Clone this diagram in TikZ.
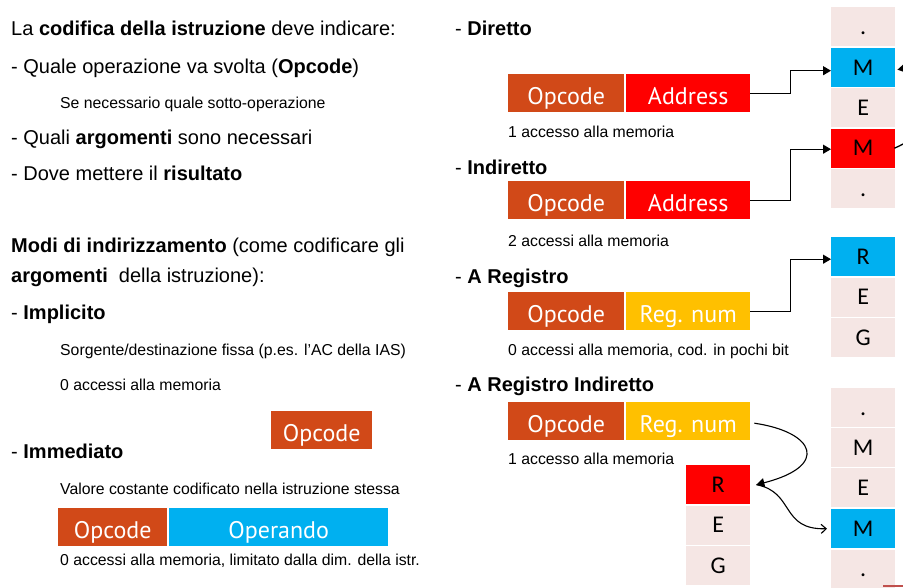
\documentclass[tikz,border=0pt]{standalone}
\usepackage{fontspec}
\setmainfont{Liberation Sans}
\newfontfamily\boxfont{PT Sans}
\newfontfamily\cellfont{Carlito}
\usetikzlibrary{arrows.meta,calc}

\definecolor{opc}{RGB}{209,73,24}
\definecolor{addr}{RGB}{255,0,0}
\definecolor{opnd}{RGB}{0,176,240}
\definecolor{regn}{RGB}{255,192,0}
\definecolor{cellbg}{RGB}{245,230,228}
\definecolor{slide}{RGB}{192,80,77}

\tikzset{
  big/.style={anchor=base west, inner sep=0pt, font=\fontsize{20}{23}\selectfont},
  small/.style={anchor=base west, inner sep=0pt, font=\fontsize{15.8}{18}\selectfont},
  field/.style={anchor=north west, inner sep=0pt, text=white,
    text height=22pt, text depth=0pt,
    font=\boxfont\fontsize{24}{27}\selectfont},
  cell/.style={anchor=north west, inner sep=0pt, fill=cellbg,
    text height=15pt, text depth=0pt,
    minimum width=64pt, minimum height=39pt, font=\cellfont\fontsize{24}{27}\selectfont},
  link/.style={line width=1.3pt, -{Triangle[length=8pt,width=9pt]}},
  barb/.style={line width=1.1pt, -{Straight Barb[length=5pt,width=9pt]}}
}

\begin{document}
\begin{tikzpicture}[x=1pt,y=-1pt]
\useasboundingbox (0,0) rectangle (903,587);
\fill[white] (0,0) rectangle (903,587);

% ---------- left column ----------
\node[big] (t1) at (11,35) {La \textbf{codifica della istruzione} deve indicare:};
\node[big] (t2) at (11,73) {- Quale operazione va svolta (\textbf{Opcode})};
\node[small] (t3) at (60,108) {Se necessario quale sotto-operazione};
\node[big] (t4) at (11,144) {- Quali \textbf{argomenti} sono necessari};
\node[big] (t5) at (11,180) {- Dove mettere il \textbf{risultato}};
\node[big] (t6) at (11,252) {\textbf{Modi di indirizzamento} (come codificare gli};
\node[big] (t7) at (11,282) {\textbf{argomenti}\ \ della istruzione):};
\node[big] (t8) at (11,319) {- \textbf{Implicito}};
\node[small] (t9) at (60,355) {Sorgente/destinazione fissa (p.es. l’AC della IAS)};
\node[small] (t10) at (60,390) {0 accessi alla memoria};
\node[field, fill=opc, minimum width=101pt, minimum height=38pt] (imp) at (271,411) {Opcode};
\node[big] (t11) at (11,458) {- \textbf{Immediato}};
\node[small] (t12) at (60,494) {Valore costante codificato nella istruzione stessa};
\node[field, fill=opc, minimum width=109pt, minimum height=38pt] (iop) at (58,508) {Opcode};
\node[field, fill=opnd, minimum width=219pt, minimum height=38pt] (iopd) at (169,508) {Operando};
\node[small] (t13) at (60,565) {0 accessi alla memoria, limitato dalla dim. della istr.};

% ---------- right column ----------
\node[big] (d0) at (455,35) {- \textbf{Diretto}};
\node[field, fill=opc, minimum width=116pt, minimum height=38pt] (dop) at (508,74) {Opcode};
\node[field, fill=addr, minimum width=124pt, minimum height=38pt] (dad) at (626,74) {Address};
\node[small] (d1) at (508,137) {1 accesso alla memoria};

\node[big] (n0) at (455,174) {- \textbf{Indiretto}};
\node[field, fill=opc, minimum width=116pt, minimum height=38pt] (nop) at (508,181) {Opcode};
\node[field, fill=addr, minimum width=124pt, minimum height=38pt] (nad) at (626,181) {Address};
\node[small] (n1) at (508,246) {2 accessi alla memoria};

\node[big] (r0) at (455,283) {- \textbf{A Registro}};
\node[field, fill=opc, minimum width=116pt, minimum height=38pt] (rop) at (508,292) {Opcode};
\node[field, fill=regn, minimum width=124pt, minimum height=38pt] (rnum) at (626,292) {Reg. num};
\node[small] (r1) at (508,355) {0 accessi alla memoria, cod. in pochi bit};

\node[big] (ri0) at (455,391) {- \textbf{A Registro Indiretto}};
\node[field, fill=opc, minimum width=116pt, minimum height=38pt] (riop) at (508,402) {Opcode};
\node[field, fill=regn, minimum width=124pt, minimum height=38pt] (rinum) at (626,402) {Reg. num};
\node[small] (ri1) at (508,464) {1 accesso alla memoria};

% ---------- memory and register columns ----------
\node[cell] (ma1) at (831,7) {.};
\node[cell, fill=opnd] (ma2) at (831,48) {M};
\node[cell] (ma3) at (831,88) {E};
\node[cell, fill=addr] (ma4) at (831,128.5) {M};
\node[cell] (ma5) at (831,169) {.};

\node[cell, fill=opnd] (ra1) at (831,237) {R};
\node[cell] (ra2) at (831,277.5) {E};
\node[cell] (ra3) at (831,318) {G};

\node[cell] (mb1) at (831,388) {.};
\node[cell] (mb2) at (831,428) {M};
\node[cell] (mb3) at (831,468) {E};
\node[cell, fill=opnd] (mb4) at (831,509) {M};
\node[cell] (mb5) at (831,549.5) {.};

\node[cell, fill=addr] (rb1) at (686,465) {R};
\node[cell] (rb2) at (686,505.5) {E};
\node[cell] (rb3) at (686,546) {G};

\fill[slide] (883,584.5) rectangle (903,587);

% ---------- connectors ----------
\draw[link] (dad.east) -- ++(40,0) |- ([yshift=-3pt]ma2.west);
\draw[link] (nad.east) -- ++(40,0) |- ([yshift=-1pt]ma4.west);
\draw[link] (rnum.east) -- ++(40,0) |- ([yshift=-2.5pt]ra1.west);

\begin{scope}
  \clip (0,0) rectangle (903,587);
  \draw[link] ([xshift=-1pt]ma4.east) .. controls (950,125) and (945,60) .. ([xshift=2pt,yshift=-2pt]ma2.east);
\end{scope}

\coordinate (rin) at ([xshift=4pt,yshift=-2pt]rinum.east);
\coordinate (rbr) at ([xshift=6pt]rb1.east);
\draw[link, line width=1.1pt] (rin) .. controls (815,432) and (830,466) .. (rbr);
\draw[barb] (rbr) .. controls (795,492) and (780,530) .. ([xshift=-4pt]mb4.west);

\end{tikzpicture}
\end{document}
